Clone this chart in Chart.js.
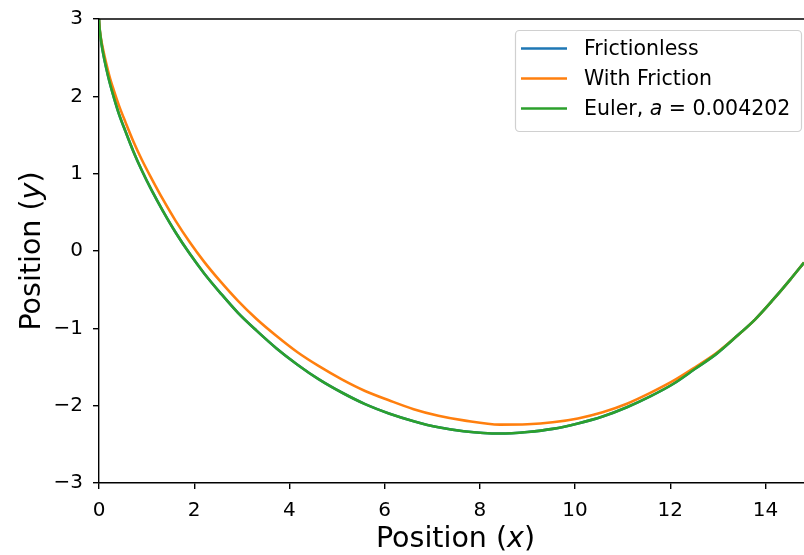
<!DOCTYPE html>
<html>
<head>
<meta charset="utf-8">
<script src="https://cdn.jsdelivr.net/npm/chart.js@4.4.1/dist/chart.umd.min.js"></script>
<style>
    html, body { margin: 0; padding: 0; background: #ffffff; }
    #wrap { position: relative; width: 804px; height: 555px; }
</style>
</head>
<body>
<div id="wrap"><canvas id="chart" width="804" height="555"></canvas></div>
<script>
// values
const frictionlessX = [0, 0.004, 0.012, 0.028, 0.055, 0.095, 0.15, 0.22, 0.31, 0.42, 0.56, 0.72, 0.9, 1.11, 1.35, 1.61, 1.9, 2.21, 2.56, 2.92, 3.31, 3.73, 4.17, 4.62, 5.1, 5.59, 6.09, 6.61, 7.13, 7.66, 8.42, 9.0, 9.53, 10.06, 10.58, 11.09, 11.58, 12.06, 12.53, 12.97, 13.4, 13.79, 14.16, 14.52, 14.81];
const frictionlessY = [3, 2.95, 2.88, 2.79, 2.67, 2.53, 2.37, 2.19, 1.99, 1.77, 1.54, 1.29, 1.04, 0.78, 0.51, 0.24, -0.03, -0.29, -0.55, -0.8, -1.03, -1.26, -1.47, -1.66, -1.83, -1.98, -2.1, -2.2, -2.28, -2.33, -2.36, -2.34, -2.3, -2.23, -2.14, -2.02, -1.88, -1.72, -1.52, -1.33, -1.1, -0.88, -0.63, -0.37, -0.15];

const frictionX = [0, 0.004, 0.012, 0.028, 0.055, 0.095, 0.15, 0.22, 0.31, 0.42, 0.56, 0.72, 0.9, 1.11, 1.35, 1.61, 1.9, 2.21, 2.56, 2.92, 3.31, 3.73, 4.17, 4.62, 5.1, 5.59, 6.09, 6.61, 7.13, 7.66, 8.42, 9.0, 9.53, 10.06, 10.58, 11.09, 11.58, 12.06, 12.53, 12.97, 13.4, 13.79, 14.16, 14.52, 14.81];
const frictionY = [3, 2.95, 2.89, 2.8, 2.7, 2.58, 2.43, 2.26, 2.08, 1.88, 1.66, 1.42, 1.18, 0.93, 0.66, 0.39, 0.12, -0.14, -0.4, -0.645, -0.88, -1.1, -1.31, -1.49, -1.66, -1.81, -1.93, -2.045, -2.13, -2.19, -2.245, -2.24, -2.215, -2.165, -2.085, -1.975, -1.835, -1.68, -1.5, -1.32, -1.1, -0.88, -0.63, -0.37, -0.15];

// Euler solution lies on top of the frictionless curve
const eulerX = [0, 0.004, 0.012, 0.028, 0.055, 0.095, 0.15, 0.22, 0.31, 0.42, 0.56, 0.72, 0.9, 1.11, 1.35, 1.61, 1.9, 2.21, 2.56, 2.92, 3.31, 3.73, 4.17, 4.62, 5.1, 5.59, 6.09, 6.61, 7.13, 7.66, 8.42, 9.0, 9.53, 10.06, 10.58, 11.09, 11.58, 12.06, 12.53, 12.97, 13.4, 13.79, 14.16, 14.52, 14.81];
const eulerY = [3, 2.95, 2.88, 2.79, 2.67, 2.53, 2.37, 2.19, 1.99, 1.77, 1.54, 1.29, 1.04, 0.78, 0.51, 0.24, -0.03, -0.29, -0.55, -0.8, -1.03, -1.26, -1.47, -1.66, -1.83, -1.98, -2.1, -2.2, -2.28, -2.33, -2.36, -2.34, -2.3, -2.23, -2.14, -2.02, -1.88, -1.72, -1.52, -1.33, -1.1, -0.88, -0.63, -0.37, -0.15];

const seriesLabels = ['Frictionless', 'With Friction', 'Euler, a = 0.004202'];
// legend text pieces, true = italic
const legendParts = [
    [['Frictionless', false]],
    [['With Friction', false]],
    [['Euler, ', false], ['a', true], [' = 0.004202', false]],
];
const seriesColors = ['#1f77b4', '#ff7f0e', '#2ca02c'];

const xTicks = [0, 2, 4, 6, 8, 10, 12, 14];
const yTicks = [-3, -2, -1, 0, 1, 2, 3];
const xRange = [0, 14.81];
const yRange = [-3, 3];

const FONT = '"DejaVu Sans", sans-serif';

const toPoints = (xs, ys) => xs.map((x, i) => ({ x: x, y: ys[i] }));
const minus = (v) => (v < 0 ? '\u2212' + Math.abs(v) : String(v));

const drawParts = (ctx, parts, x, y, size) => {
    let cx = x;
    parts.forEach(([text, italic]) => {
        ctx.font = `${italic ? 'italic ' : ''}${size}px ${FONT}`;
        ctx.fillText(text, cx, y);
        cx += ctx.measureText(text).width;
    });
    return cx - x;
};

const measureParts = (ctx, parts, size) => {
    let w = 0;
    parts.forEach(([text, italic]) => {
        ctx.font = `${italic ? 'italic ' : ''}${size}px ${FONT}`;
        w += ctx.measureText(text).width;
    });
    return w;
};

const decorPlugin = {
    id: 'decor',
    afterDraw(chart) {
        const { ctx, chartArea } = chart;
        ctx.save();

        // top spine
        ctx.strokeStyle = '#000000';
        ctx.lineWidth = 1.4;
        ctx.beginPath();
        ctx.moveTo(chartArea.left - 0.7, chartArea.top);
        ctx.lineTo(chartArea.right, chartArea.top);
        ctx.stroke();

        // axis titles
        ctx.fillStyle = '#000000';
        ctx.textBaseline = 'alphabetic';
        const titleX = [['Position (', false], ['x', true], [')', false]];
        const titleY = [['Position (', false], ['y', true], [')', false]];
        const wx = measureParts(ctx, titleX, 28.5);
        drawParts(ctx, titleX, 455.5 - wx / 2, 547, 28.5);

        ctx.save();
        ctx.translate(40, (chartArea.top + chartArea.bottom) / 2);
        ctx.rotate(-Math.PI / 2);
        const wy = measureParts(ctx, titleY, 28.5);
        drawParts(ctx, titleY, -wy / 2, 0, 28.5);
        ctx.restore();

        // legend
        const box = { left: 515, top: 30, right: 801, bottom: 131 };
        ctx.beginPath();
        ctx.roundRect(box.left + 0.5, box.top + 0.5, box.right - box.left, box.bottom - box.top, 4);
        ctx.fillStyle = 'rgba(255,255,255,0.8)';
        ctx.fill();
        ctx.strokeStyle = '#d0d0d0';
        ctx.lineWidth = 1.2;
        ctx.stroke();

        const rows = [48.5, 78.5, 108.5];
        ctx.textBaseline = 'middle';
        chart.data.datasets.forEach((ds, i) => {
            ctx.strokeStyle = ds.borderColor;
            ctx.lineWidth = 2.6;
            ctx.beginPath();
            ctx.moveTo(521, rows[i]);
            ctx.lineTo(567, rows[i]);
            ctx.stroke();
            ctx.fillStyle = '#000000';
            drawParts(ctx, legendParts[i], 584, rows[i] + 1, 20.5);
        });

        ctx.restore();
    },
};

const tickFont = { family: FONT, size: 20 };

new Chart(document.getElementById('chart'), {
    type: 'line',
    data: {
        datasets: [
            { label: seriesLabels[0], data: toPoints(frictionlessX, frictionlessY), borderColor: seriesColors[0], order: 3 },
            { label: seriesLabels[1], data: toPoints(frictionX, frictionY), borderColor: seriesColors[1], order: 2 },
            { label: seriesLabels[2], data: toPoints(eulerX, eulerY), borderColor: seriesColors[2], order: 1 },
        ],
    },
    options: {
        responsive: false,
        animation: false,
        parsing: false,
        layout: { padding: { left: 0, top: 19, right: 0, bottom: 0 } },
        elements: {
            line: { borderWidth: 2.6, cubicInterpolationMode: 'monotone', fill: false },
            point: { radius: 0, hoverRadius: 0 },
        },
        plugins: {
            legend: { display: false },
            tooltip: { enabled: false },
        },
        scales: {
            x: {
                type: 'linear',
                min: xRange[0],
                max: xRange[1],
                afterBuildTicks: (axis) => { axis.ticks = xTicks.map((v) => ({ value: v })); },
                afterFit: (axis) => { axis.height = 72; axis.paddingLeft = 0; axis.paddingRight = 0; },
                grid: { drawOnChartArea: false, drawTicks: true, tickLength: 6, color: '#000000', lineWidth: 1.4 },
                border: { display: true, color: '#000000', width: 1.4 },
                ticks: { font: tickFont, color: '#000000', padding: 10, maxRotation: 0, callback: (v) => minus(v) },
            },
            y: {
                type: 'linear',
                min: yRange[0],
                max: yRange[1],
                afterBuildTicks: (axis) => { axis.ticks = yTicks.map((v) => ({ value: v })); },
                afterFit: (axis) => { axis.width = 99; axis.paddingTop = 0; axis.paddingBottom = 0; },
                grid: { drawOnChartArea: false, drawTicks: true, tickLength: 6, color: '#000000', lineWidth: 1.4 },
                border: { display: true, color: '#000000', width: 1.4 },
                ticks: { font: tickFont, color: '#000000', padding: 10, callback: (v) => minus(v) },
            },
        },
    },
    plugins: [decorPlugin],
});
</script>
</body>
</html>
